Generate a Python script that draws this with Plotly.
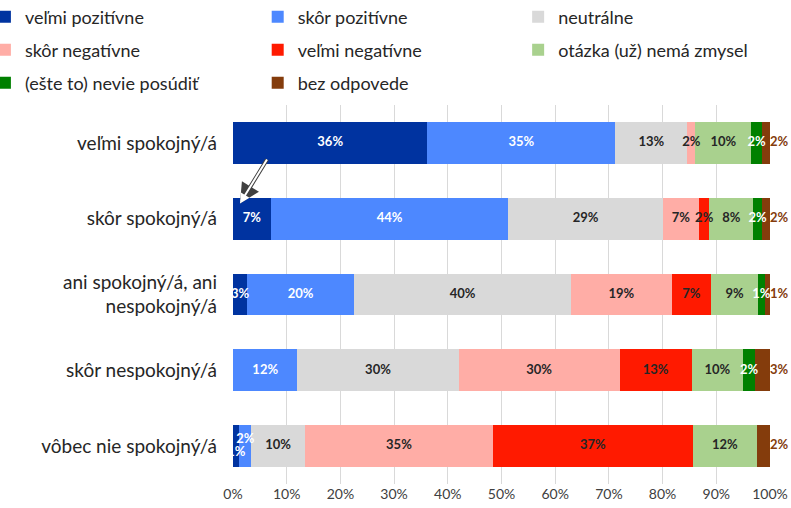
import plotly.graph_objects as go

categories = ["veľmi spokojný/á", "skôr spokojný/á", "ani spokojný/á, ani<br>nespokojný/á",
              "skôr nespokojný/á", "vôbec nie spokojný/á"]

series_names = ["veľmi pozitívne", "skôr pozitívne", "neutrálne", "skôr negatívne",
                "veľmi negatívne", "otázka (už) nemá zmysel", "(ešte to) nevie posúdiť", "bez odpovede"]

velmi_pozitivne = [36.2, 7.0, 2.6, 0.0, 1.2]
skor_pozitivne = [35.0, 44.3, 20.0, 12.0, 2.2]
neutralne = [13.4, 28.7, 40.3, 30.0, 10.0]
skor_negativne = [1.5, 6.8, 18.8, 30.0, 35.0]
velmi_negativne = [0.0, 1.9, 7.3, 13.4, 37.2]
otazka_nema_zmysel = [10.4, 8.2, 8.8, 9.6, 12.0]
nevie_posudit = [2.0, 1.6, 1.2, 2.2, 0.0]
bez_odpovede = [1.5, 1.5, 1.0, 2.8, 2.4]

x_ticks = [0, 10, 20, 30, 40, 50, 60, 70, 80, 90, 100]
x_tick_labels = [f"{t}%" for t in x_ticks]

series_values = [velmi_pozitivne, skor_pozitivne, neutralne, skor_negativne,
                 velmi_negativne, otazka_nema_zmysel, nevie_posudit, bez_odpovede]
colors = ["#0033A0", "#4D88FF", "#D9D9D9", "#FFADA6", "#FF1A00", "#A9D18E", "#008000", "#843C0C"]
text_colors = ["white", "white", "#262626", "#262626", "#262626", "#262626", "white", "#843C0C"]

# legend grid: 3 columns x 3 rows (paper coords)
leg_x = [-0.462, 0.046, 0.531]
leg_y = [1.2322, 1.1451, 1.0580]

FONT = "Lato"

def lab(v):
    return f"{int(v + 0.5)}%" if v > 0 else ""

fig = go.Figure()
legend_layouts = {}
n_rows = len(categories)
cum = [0.0] * n_rows
for i, (name, vals) in enumerate(zip(series_names, series_values)):
    last = i == len(series_names) - 1
    lid = "legend" if i == 0 else f"legend{i + 1}"
    fig.add_trace(go.Bar(
        y=categories, x=vals, name=name, orientation="h",
        marker=dict(color=colors[i], line=dict(width=0)),
        textposition="none", legend=lid, hoverinfo="skip",
    ))
    legend_layouts[lid] = dict(
        orientation="h", x=leg_x[i % 3], y=leg_y[i // 3], xanchor="left", yanchor="middle",
        font=dict(family=FONT, size=18, color="#262626"), bgcolor="rgba(0,0,0,0)",
        itemwidth=30, itemclick=False,
    )
    # data labels
    if last:
        lx = [round(min(c + v, 100.0), 6) for c, v in zip(cum, vals)]
        pos = ["middle right"] * n_rows
    else:
        lx = [round(c + v / 2, 6) for c, v in zip(cum, vals)]
        pos = ["middle center"] * n_rows
        if i == 0:
            pos[4] = "bottom center"
        elif i == 1:
            pos[4] = "top center"
    fig.add_trace(go.Scatter(
        x=lx, y=categories, mode="text", text=[lab(v) for v in vals],
        textposition=pos,
        textfont=dict(family=FONT, size=13, color=text_colors[i], weight="bold"),
        showlegend=False, hoverinfo="skip", cliponaxis=not last,
    ))
    cum = [round(c + v, 6) for c, v in zip(cum, vals)]

# arrow from the 36% label to the 7% label
arrow_kw = dict(x=velmi_pozitivne[1] / 2 - 2.2, y=0.8, xref="x", yref="y",
                ax=velmi_pozitivne[0] / 2 - 11.6, ay=0.2, axref="x", ayref="y",
                text="", showarrow=True, arrowhead=2)
fig.add_annotation(**arrow_kw, arrowsize=1.0, arrowwidth=4, arrowcolor="#404040")
fig.add_annotation(**arrow_kw, arrowsize=1.0, arrowwidth=2, arrowcolor="#FFFFFF")

fig.update_layout(
    width=791, height=508,
    margin=dict(l=233, r=21, t=105, b=24, autoexpand=False),
    barmode="stack", bargap=0.45,
    plot_bgcolor="white", paper_bgcolor="white",
    font=dict(family=FONT, size=16, color="#262626"),
    showlegend=True,
    xaxis=dict(range=[0, 100], tickmode="array", tickvals=x_ticks, ticktext=x_tick_labels,
               showgrid=True, gridcolor="#D9D9D9", gridwidth=1, zeroline=False, showline=False,
               tickfont=dict(family=FONT, size=14, color="#404040"), fixedrange=True,
               automargin=False),
    yaxis=dict(autorange="reversed", showgrid=False, showline=False, ticks="",
               ticklabelstandoff=15, automargin=False,
               tickfont=dict(family=FONT, size=19, color="#262626"), fixedrange=True),
    **legend_layouts,
)

fig.write_html("out.html", config={"displayModeBar": False},
               post_script="document.body.style.margin='0';document.body.style.padding='0';")
